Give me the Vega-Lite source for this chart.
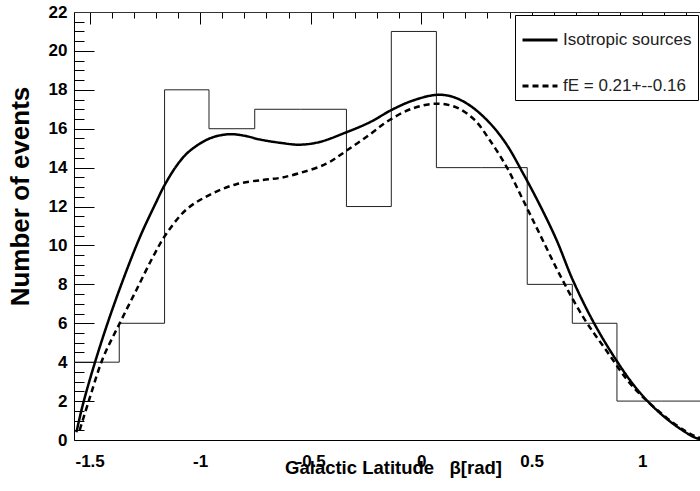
{
  "$schema": "https://vega.github.io/schema/vega-lite/v6.json",
  "autosize": {"type": "none"},
  "padding": {"left": 74, "top": 12, "right": 0, "bottom": 51},
  "width": 626,
  "height": 428,
  "background": "white",
  "config": {"view": {"stroke": null}, "font": "Liberation Sans"},
  "datasets": {
    "hist": [
      {"beta": -1.5708, "events": 4},
      {"beta": -1.366, "events": 6},
      {"beta": -1.161, "events": 18},
      {"beta": -0.96, "events": 16},
      {"beta": -0.753, "events": 17},
      {"beta": -0.546, "events": 17},
      {"beta": -0.338, "events": 12},
      {"beta": -0.135, "events": 21},
      {"beta": 0.069, "events": 14},
      {"beta": 0.274, "events": 14},
      {"beta": 0.48, "events": 8},
      {"beta": 0.684, "events": 6},
      {"beta": 0.886, "events": 2},
      {"beta": 1.088, "events": 2},
      {"beta": 1.29, "events": 2}
    ],
    "curves": [
      {"series": "Isotropic sources", "beta": -1.56, "events": 0.4},
      {"series": "Isotropic sources", "beta": -1.53, "events": 1.85},
      {"series": "Isotropic sources", "beta": -1.477, "events": 3.95},
      {"series": "Isotropic sources", "beta": -1.41, "events": 6.3},
      {"series": "Isotropic sources", "beta": -1.33, "events": 8.8},
      {"series": "Isotropic sources", "beta": -1.266, "events": 10.6},
      {"series": "Isotropic sources", "beta": -1.2, "events": 12.2},
      {"series": "Isotropic sources", "beta": -1.161, "events": 13.1},
      {"series": "Isotropic sources", "beta": -1.1, "events": 14.2},
      {"series": "Isotropic sources", "beta": -1.048, "events": 14.85},
      {"series": "Isotropic sources", "beta": -0.957, "events": 15.5},
      {"series": "Isotropic sources", "beta": -0.867, "events": 15.72},
      {"series": "Isotropic sources", "beta": -0.8, "events": 15.64},
      {"series": "Isotropic sources", "beta": -0.731, "events": 15.45},
      {"series": "Isotropic sources", "beta": -0.64, "events": 15.28},
      {"series": "Isotropic sources", "beta": -0.55, "events": 15.18},
      {"series": "Isotropic sources", "beta": -0.459, "events": 15.32},
      {"series": "Isotropic sources", "beta": -0.338, "events": 15.82},
      {"series": "Isotropic sources", "beta": -0.233, "events": 16.33},
      {"series": "Isotropic sources", "beta": -0.128, "events": 17.0},
      {"series": "Isotropic sources", "beta": -0.037, "events": 17.45},
      {"series": "Isotropic sources", "beta": 0.069, "events": 17.74},
      {"series": "Isotropic sources", "beta": 0.14, "events": 17.65},
      {"series": "Isotropic sources", "beta": 0.22, "events": 17.2},
      {"series": "Isotropic sources", "beta": 0.31, "events": 16.3},
      {"series": "Isotropic sources", "beta": 0.386, "events": 15.2},
      {"series": "Isotropic sources", "beta": 0.461, "events": 13.71},
      {"series": "Isotropic sources", "beta": 0.536, "events": 12.1},
      {"series": "Isotropic sources", "beta": 0.612, "events": 10.3},
      {"series": "Isotropic sources", "beta": 0.687, "events": 8.2},
      {"series": "Isotropic sources", "beta": 0.785, "events": 5.95},
      {"series": "Isotropic sources", "beta": 0.883, "events": 4.1},
      {"series": "Isotropic sources", "beta": 0.96, "events": 2.85},
      {"series": "Isotropic sources", "beta": 1.033, "events": 1.9},
      {"series": "Isotropic sources", "beta": 1.11, "events": 1.1},
      {"series": "Isotropic sources", "beta": 1.185, "events": 0.48},
      {"series": "Isotropic sources", "beta": 1.245, "events": 0.1},
      {"series": "Isotropic sources", "beta": 1.3, "events": 0.0},
      {"series": "fE = 0.21+--0.16", "beta": -1.545, "events": 0.51},
      {"series": "fE = 0.21+--0.16", "beta": -1.5, "events": 2.15},
      {"series": "fE = 0.21+--0.16", "beta": -1.44, "events": 4.2},
      {"series": "fE = 0.21+--0.16", "beta": -1.364, "events": 6.0},
      {"series": "fE = 0.21+--0.16", "beta": -1.289, "events": 7.7},
      {"series": "fE = 0.21+--0.16", "beta": -1.214, "events": 9.4},
      {"series": "fE = 0.21+--0.16", "beta": -1.153, "events": 10.6},
      {"series": "fE = 0.21+--0.16", "beta": -1.062, "events": 11.85},
      {"series": "fE = 0.21+--0.16", "beta": -0.957, "events": 12.6},
      {"series": "fE = 0.21+--0.16", "beta": -0.836, "events": 13.15},
      {"series": "fE = 0.21+--0.16", "beta": -0.716, "events": 13.37},
      {"series": "fE = 0.21+--0.16", "beta": -0.64, "events": 13.47},
      {"series": "fE = 0.21+--0.16", "beta": -0.55, "events": 13.72},
      {"series": "fE = 0.21+--0.16", "beta": -0.429, "events": 14.2},
      {"series": "fE = 0.21+--0.16", "beta": -0.338, "events": 14.87},
      {"series": "fE = 0.21+--0.16", "beta": -0.233, "events": 15.7},
      {"series": "fE = 0.21+--0.16", "beta": -0.143, "events": 16.45},
      {"series": "fE = 0.21+--0.16", "beta": -0.037, "events": 17.05},
      {"series": "fE = 0.21+--0.16", "beta": 0.069, "events": 17.29},
      {"series": "fE = 0.21+--0.16", "beta": 0.159, "events": 17.1},
      {"series": "fE = 0.21+--0.16", "beta": 0.242, "events": 16.45},
      {"series": "fE = 0.21+--0.16", "beta": 0.31, "events": 15.42},
      {"series": "fE = 0.21+--0.16", "beta": 0.386, "events": 14.05},
      {"series": "fE = 0.21+--0.16", "beta": 0.461, "events": 12.34},
      {"series": "fE = 0.21+--0.16", "beta": 0.536, "events": 10.6},
      {"series": "fE = 0.21+--0.16", "beta": 0.627, "events": 8.5},
      {"series": "fE = 0.21+--0.16", "beta": 0.732, "events": 6.34},
      {"series": "fE = 0.21+--0.16", "beta": 0.838, "events": 4.6},
      {"series": "fE = 0.21+--0.16", "beta": 0.958, "events": 2.74},
      {"series": "fE = 0.21+--0.16", "beta": 1.11, "events": 1.15},
      {"series": "fE = 0.21+--0.16", "beta": 1.2, "events": 0.43},
      {"series": "fE = 0.21+--0.16", "beta": 1.245, "events": 0.17},
      {"series": "fE = 0.21+--0.16", "beta": 1.3, "events": 0.02}
    ]
  },
  "layer": [
    {
      "data": {"name": "hist"},
      "mark": {"type": "line", "interpolate": "step-after", "color": "#222", "strokeWidth": 1, "clip": true},
      "encoding": {
        "x": {
          "field": "beta", "type": "quantitative",
          "scale": {"domain": [-1.5708, 1.2618], "nice": false, "zero": false},
          "axis": {
            "orient": "bottom",
            "values": [-1.5, -1, -0.5, 0, 0.5, 1],
            "domain": true, "domainColor": "black", "domainWidth": 1,
            "ticks": false, "tickSize": 0,
            "grid": true, "gridColor": "black", "gridOpacity": 1, "gridWidth": 1, "gridDash": [12, 2000],
            "labelExpr": "'' + datum.value",
            "labelFont": "Liberation Sans", "labelFontWeight": "bold", "labelFontSize": 17, "labelColor": "black",
            "labelBaseline": "alphabetic", "labelPadding": 26, "labelFlush": false, "labelOverlap": false,
            "title": "Galactic Latitude\u00a0\u00a0\u00a0β[rad]",
            "titleFont": "Liberation Sans", "titleFontWeight": "bold", "titleFontSize": 18.5, "titleColor": "black",
            "titleX": 319, "titleY": 33, "titleAlign": "center", "titleBaseline": "alphabetic", "titleAnchor": null
          }
        },
        "y": {
          "field": "events", "type": "quantitative",
          "scale": {"domain": [0, 22], "nice": false, "zero": true},
          "axis": {
            "orient": "left",
            "values": [0, 2, 4, 6, 8, 10, 12, 14, 16, 18, 20, 22],
            "domain": true, "domainColor": "black", "domainWidth": 1,
            "ticks": false, "tickSize": 0,
            "grid": true, "gridColor": "black", "gridOpacity": 1, "gridWidth": 1, "gridDash": [20, 2000],
            "labelFont": "Liberation Sans", "labelFontWeight": "bold", "labelFontSize": 17, "labelColor": "black",
            "labelPadding": 7, "labelFlush": false, "labelOverlap": false,
            "title": "Number of events",
            "titleFont": "Liberation Sans", "titleFontWeight": "bold", "titleFontSize": 26, "titleColor": "black",
            "titleX": -46, "titleY": 184, "titleAngle": -90, "titleAlign": "center", "titleBaseline": "alphabetic", "titleAnchor": null
          }
        }
      }
    },
    {
      "data": {"name": "curves"},
      "mark": {"type": "line", "interpolate": "catmull-rom", "color": "black", "strokeWidth": 2.5, "clip": true},
      "encoding": {
        "x": {
          "field": "beta", "type": "quantitative",
          "scale": {"domain": [-1.5708, 1.2618], "nice": false, "zero": false},
          "axis": {
            "orient": "bottom",
            "values": [-1.5, -1.4, -1.3, -1.2, -1.1, -1.0, -0.9, -0.8, -0.7, -0.6, -0.5, -0.4, -0.3, -0.2, -0.1, 0, 0.1, 0.2, 0.3, 0.4, 0.5, 0.6, 0.7, 0.8, 0.9, 1.0, 1.1, 1.2],
            "domain": false, "labels": false, "title": null, "ticks": false, "tickSize": 0,
            "grid": true, "gridColor": "black", "gridOpacity": 1, "gridWidth": 1, "gridDash": [6, 2000]
          }
        },
        "y": {
          "field": "events", "type": "quantitative",
          "scale": {"domain": [0, 22], "nice": false, "zero": true},
          "axis": {
            "orient": "left",
            "values": [0.5, 1, 1.5, 2.5, 3, 3.5, 4.5, 5, 5.5, 6.5, 7, 7.5, 8.5, 9, 9.5, 10.5, 11, 11.5, 12.5, 13, 13.5, 14.5, 15, 15.5, 16.5, 17, 17.5, 18.5, 19, 19.5, 20.5, 21, 21.5],
            "domain": false, "labels": false, "title": null, "ticks": false, "tickSize": 0,
            "grid": true, "gridColor": "black", "gridOpacity": 1, "gridWidth": 1, "gridDash": [10, 2000]
          }
        },
        "strokeDash": {
          "field": "series", "type": "nominal",
          "scale": {"domain": ["Isotropic sources", "fE = 0.21+--0.16"], "range": [[1, 0], [6, 4]]},
          "legend": {
            "orient": "none", "legendX": 441, "legendY": 3, "direction": "vertical",
            "title": null,
            "strokeColor": "black", "fillColor": "white", "padding": 6,
            "symbolType": "stroke", "symbolSize": 1225, "symbolStrokeWidth": 3, "symbolStrokeColor": "black",
            "labelFont": "Liberation Sans", "labelFontSize": 17, "labelColor": "#222", "labelOffset": 4,
            "rowPadding": 19,
            "labelExpr": "datum.label + '\u00a0\u00a0\u00a0\u00a0\u00a0\u00a0\u00a0\u00a0\u00a0\u00a0\u00a0\u00a0'"
          }
        }
      }
    },
    {
      "data": {"name": "hist"},
      "mark": {"type": "line", "opacity": 0},
      "encoding": {
        "x": {
          "field": "beta", "type": "quantitative",
          "scale": {"domain": [-1.5708, 1.2618], "nice": false, "zero": false},
          "axis": {"orient": "top", "grid": false, "ticks": false, "labels": false, "title": null, "domain": true, "domainColor": "#333", "domainWidth": 1}
        },
        "y": {
          "field": "events", "type": "quantitative",
          "scale": {"domain": [0, 22], "nice": false},
          "axis": null
        }
      }
    }
  ],
  "resolve": {"scale": {"x": "independent", "y": "independent", "strokeDash": "independent"}}
}
